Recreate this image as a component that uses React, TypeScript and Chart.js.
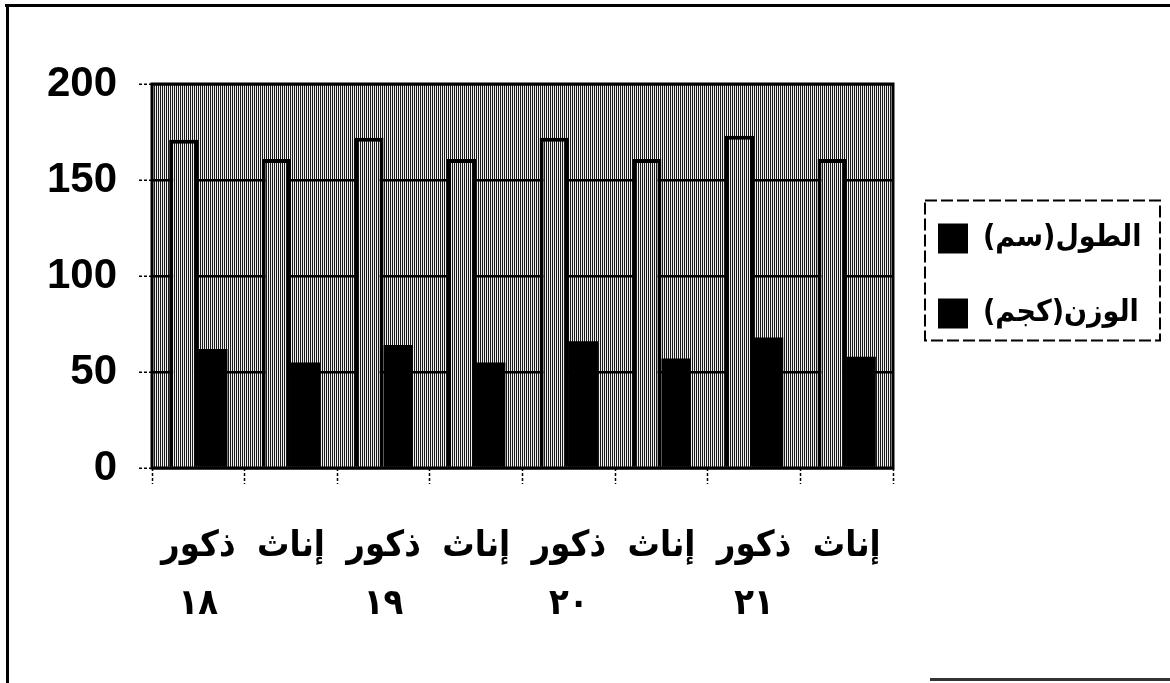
import React, { useEffect, useRef } from "react";
import { Chart, registerables } from "chart.js";

Chart.register(...registerables);

// ---- data ----
const genders = ["ذكور", "إناث", "ذكور", "إناث", "ذكور", "إناث", "ذكور", "إناث"];
const ages = ["١٨", "", "١٩", "", "٢٠", "", "٢١", ""];
const heightCm = [171, 161, 172, 161, 172, 161, 173, 161];
const weightKg = [62, 55, 64, 55, 66, 57, 68, 58];
const seriesNames = ["الطول(سم)", "الوزن(كجم)"];
const yMin = 0;
const yMax = 200;
const yStep = 50;

const arabicFont = "'DejaVu Sans Condensed', 'DejaVu Sans', sans-serif";

function makePattern(): CanvasPattern | string {
  const c = document.createElement("canvas");
  c.width = 2;
  c.height = 2;
  const g = c.getContext("2d");
  if (!g) return "#8a8a8a";
  g.fillStyle = "#eeeeee";
  g.fillRect(0, 0, 2, 2);
  g.fillStyle = "#1a1a1a";
  g.fillRect(0, 0, 1, 2);
  return g.createPattern(c, "repeat") || "#8a8a8a";
}

export default function App() {
  const ref = useRef<HTMLCanvasElement | null>(null);

  useEffect(() => {
    document.body.style.margin = "0";
    document.body.style.background = "#fff";
    const canvas = ref.current;
    if (!canvas) return;
    const pattern = makePattern();
    const labels = genders.map((g, i) => (ages[i] ? [g, ages[i]] : [g]));

    const decor = {
      id: "decor",
      afterInit(chart: any) {
        const lg = chart.legend;
        if (lg && !lg.__patched) {
          const orig = lg.fit.bind(lg);
          lg.fit = function () {
            orig();
            this.width = 277;
          };
          lg.__patched = true;
        }
      },
      beforeDraw(chart: any) {
        const { ctx, chartArea } = chart;
        ctx.save();
        ctx.fillStyle = pattern as any;
        ctx.fillRect(chartArea.left, chartArea.top, chartArea.right - chartArea.left, chartArea.bottom - chartArea.top);
        ctx.restore();
      },
      afterDatasetsDraw(chart: any) {
        const { ctx, chartArea } = chart;
        ctx.save();
        ctx.strokeStyle = "#000";
        ctx.lineWidth = 3;
        ctx.strokeRect(chartArea.left, chartArea.top, chartArea.right - chartArea.left, chartArea.bottom - chartArea.top);
        ctx.restore();
      },
      afterDraw(chart: any) {
        const { ctx } = chart;
        ctx.save();
        // page frame
        ctx.fillStyle = "#000";
        ctx.fillRect(5, 4, 1165, 3);
        ctx.fillRect(6, 6, 3, 677);
        ctx.fillStyle = "#333";
        ctx.fillRect(930, 678, 240, 3);
        // legend frame
        const hb = chart.legend && chart.legend.legendHitBoxes;
        if (hb && hb.length) {
          const l = hb[0].left - 13;
          const t = hb[0].top - 23;
          const last = hb[hb.length - 1];
          const b = last.top + last.height + 12;
          const r = l + 235;
          ctx.strokeStyle = "#000";
          ctx.lineWidth = 2;
          ctx.setLineDash([12, 4]);
          ctx.strokeRect(l, t, r - l, b - t);
        }
        ctx.restore();
      },
    };

    const chart = new Chart(canvas, {
      type: "bar",
      data: {
        labels,
        datasets: [
          {
            label: seriesNames[0],
            data: heightCm,
            backgroundColor: pattern as any,
            borderColor: "#000",
            borderWidth: 4,
            borderSkipped: "bottom",
            categoryPercentage: 0.63,
            barPercentage: 1,
          },
          {
            label: seriesNames[1],
            data: weightKg,
            backgroundColor: "#000",
            borderWidth: 0,
            categoryPercentage: 0.63,
            barPercentage: 1,
          },
        ],
      },
      options: {
        responsive: false,
        animation: false,
        devicePixelRatio: 1,
        layout: { padding: { top: 84, left: 0, right: 0, bottom: 0 } },
        plugins: {
          tooltip: { enabled: false },
          legend: {
            position: "right",
            fullSize: false,
            textDirection: "rtl",
            labels: {
              boxWidth: 30,
              boxHeight: 30,
              padding: 45,
              color: "#000",
              font: { family: arabicFont, size: 30, weight: "bold" },
              generateLabels: (c: any) =>
                (Chart.defaults.plugins.legend.labels.generateLabels as any)(c).map((it: any) => ({
                  ...it,
                  fillStyle: "#000",
                  strokeStyle: "#000",
                  lineWidth: 0,
                })),
            },
          },
        },
        scales: {
          x: {
            afterFit: (s: any) => {
              s.height = 215;
            },
            border: { display: false },
            grid: {
              display: true,
              drawOnChartArea: false,
              offset: true,
              color: "#000",
              tickLength: 16,
              tickWidth: 1.5,
              tickBorderDash: [3, 2],
            },
            ticks: {
              autoSkip: false,
              maxRotation: 0,
              minRotation: 0,
              padding: 34,
              color: "#000",
              font: { family: arabicFont, size: 36, weight: "bold", lineHeight: 1.6 },
            },
          },
          y: {
            min: yMin,
            max: yMax,
            afterFit: (s: any) => {
              s.width = 152;
            },
            border: { display: false },
            grid: {
              color: "#000",
              lineWidth: 2.5,
              tickLength: 13,
              tickWidth: 1.5,
              tickBorderDash: [3, 2],
            },
            ticks: {
              stepSize: yStep,
              padding: 22,
              color: "#000",
              font: { family: "'Liberation Sans', Arial, sans-serif", size: 42, weight: "bold" },
            },
          },
        },
      },
      plugins: [decor],
    });

    return () => chart.destroy();
  }, []);

  return (
    <div style={{ width: 1170, height: 683, position: "relative", overflow: "hidden", background: "#fff" }}>
      <canvas ref={ref} width={1170} height={683} style={{ display: "block" }} />
    </div>
  );
}
